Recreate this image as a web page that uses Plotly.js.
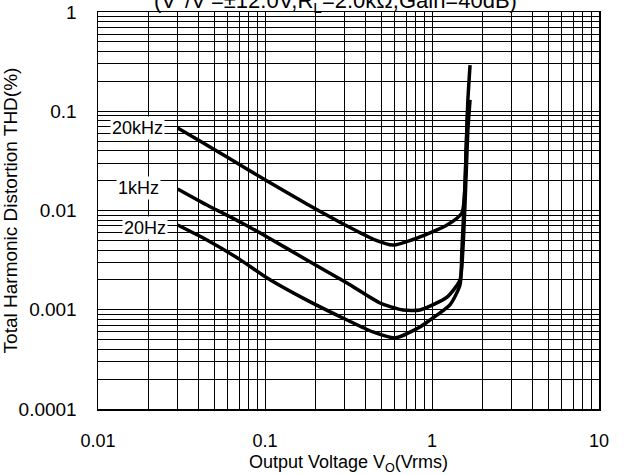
<!DOCTYPE html>
<html>
<head>
<meta charset="utf-8">
<script src="https://cdn.plot.ly/plotly-3.0.1.min.js"></script>
<style>html,body{margin:0;padding:0;background:#fff;}#chart{width:627px;height:475px;}</style>
</head>
<body>
<div id="chart"></div>
<script>
// Output voltage (Vrms) and THD (%)
const v20k   = [0.030, 0.0408, 0.0592, 0.103, 0.178, 0.310, 0.443, 0.584, 0.813, 1.23, 1.51, 1.60, 1.64, 1.69];
const thd20k = [0.0678, 0.0501, 0.0346, 0.0198, 0.01163, 0.00698, 0.00516, 0.00449, 0.00528, 0.00714, 0.00944, 0.0407, 0.130, 0.292];

const v1k    = [0.030, 0.0449, 0.0709, 0.103, 0.178, 0.310, 0.488, 0.671, 0.847, 1.23, 1.47, 1.53, 1.58, 1.64, 1.69];
const thd1k  = [0.0165, 0.01136, 0.00766, 0.00541, 0.00317, 0.00186, 0.00117, 0.000994, 0.000994, 0.00134, 0.00199, 0.0040, 0.01276, 0.0647, 0.130];

const v20    = [0.030, 0.0449, 0.0709, 0.103, 0.178, 0.310, 0.443, 0.600, 0.847, 0.973, 1.28, 1.47, 1.51, 1.58, 1.64, 1.67];
const thd20  = [0.00714, 0.00504, 0.00320, 0.00209, 0.00125, 0.000788, 0.000597, 0.000519, 0.00067, 0.000788, 0.00112, 0.00177, 0.0040, 0.0203, 0.103, 0.116];

const curveNames = ["20kHz", "1kHz", "20Hz"];
const xTicks = [0.01, 0.1, 1, 10];
const xTickText = ["0.01", "0.1", "1", "10"];
const yTicks = [0.0001, 0.001, 0.01, 0.1, 1];
const yTickText = ["0.0001", "0.001", "0.01", "0.1", "1"];

const FONT = "Liberation Sans, Arial, sans-serif";
const lineStyle = {color: "#000", width: 3.5, shape: "spline", smoothing: 0.6};

const traces = [
  {x: v20k, y: thd20k, name: curveNames[0], mode: "lines", line: lineStyle},
  {x: v1k, y: thd1k, name: curveNames[1], mode: "lines", line: lineStyle},
  {x: v20, y: thd20, name: curveNames[2], mode: "lines", line: lineStyle}
];

const labelPos = [[-1.766, -1.169], [-1.760, -1.773], [-1.719, -2.176]];
const annotations = curveNames.map((n, i) => ({
  x: labelPos[i][0], y: labelPos[i][1], xref: "x", yref: "y",
  text: n, showarrow: false, bgcolor: "#fff",
  font: {family: FONT, size: 18, color: "#000"}
}));
annotations.push({
  x: 0.475, y: 1, xref: "paper", yref: "paper", xanchor: "center", yanchor: "middle", yshift: 12,
  text: "(V<sup>+</sup>/V<sup>-</sup>=±12.0V,R<sub>L</sub>=2.0kΩ,Gain=40dB)",
  showarrow: false, font: {family: FONT, size: 22, color: "#000"}
});

const axisCommon = {
  type: "log",
  showline: true, mirror: true, linecolor: "#000", linewidth: 1.5,
  showgrid: true, gridcolor: "#000", gridwidth: 1,
  ticks: "", zeroline: false,
  tickfont: {family: FONT, size: 19, color: "#000"},
  minor: {showgrid: true, gridcolor: "#000", gridwidth: 1, dtick: "D1"}
};

const layout = {
  width: 627, height: 475,
  margin: {l: 98, r: 28, t: 12, b: 66},
  paper_bgcolor: "#fff", plot_bgcolor: "#fff",
  showlegend: false,
  font: {family: FONT, color: "#000"},
  xaxis: Object.assign({}, axisCommon, {
    range: [-2, 1], tickvals: xTicks, ticktext: xTickText, ticklabelstandoff: 15,
    tickfont: {family: FONT, size: 18, color: "#000"},
    title: {text: "Output Voltage V<sub>O</sub>(Vrms)", font: {family: FONT, size: 18, color: "#000"}, standoff: 6}
  }),
  yaxis: Object.assign({}, axisCommon, {
    range: [-4, 0], tickvals: yTicks, ticktext: yTickText, ticklabelstandoff: 16,
    title: {text: "Total Harmonic Distortion THD(%)", font: {family: FONT, size: 19, color: "#000"}, standoff: 4}
  }),
  annotations: annotations
};

Plotly.newPlot("chart", traces, layout, {displayModeBar: false, staticPlot: true});
</script>
</body>
</html>
